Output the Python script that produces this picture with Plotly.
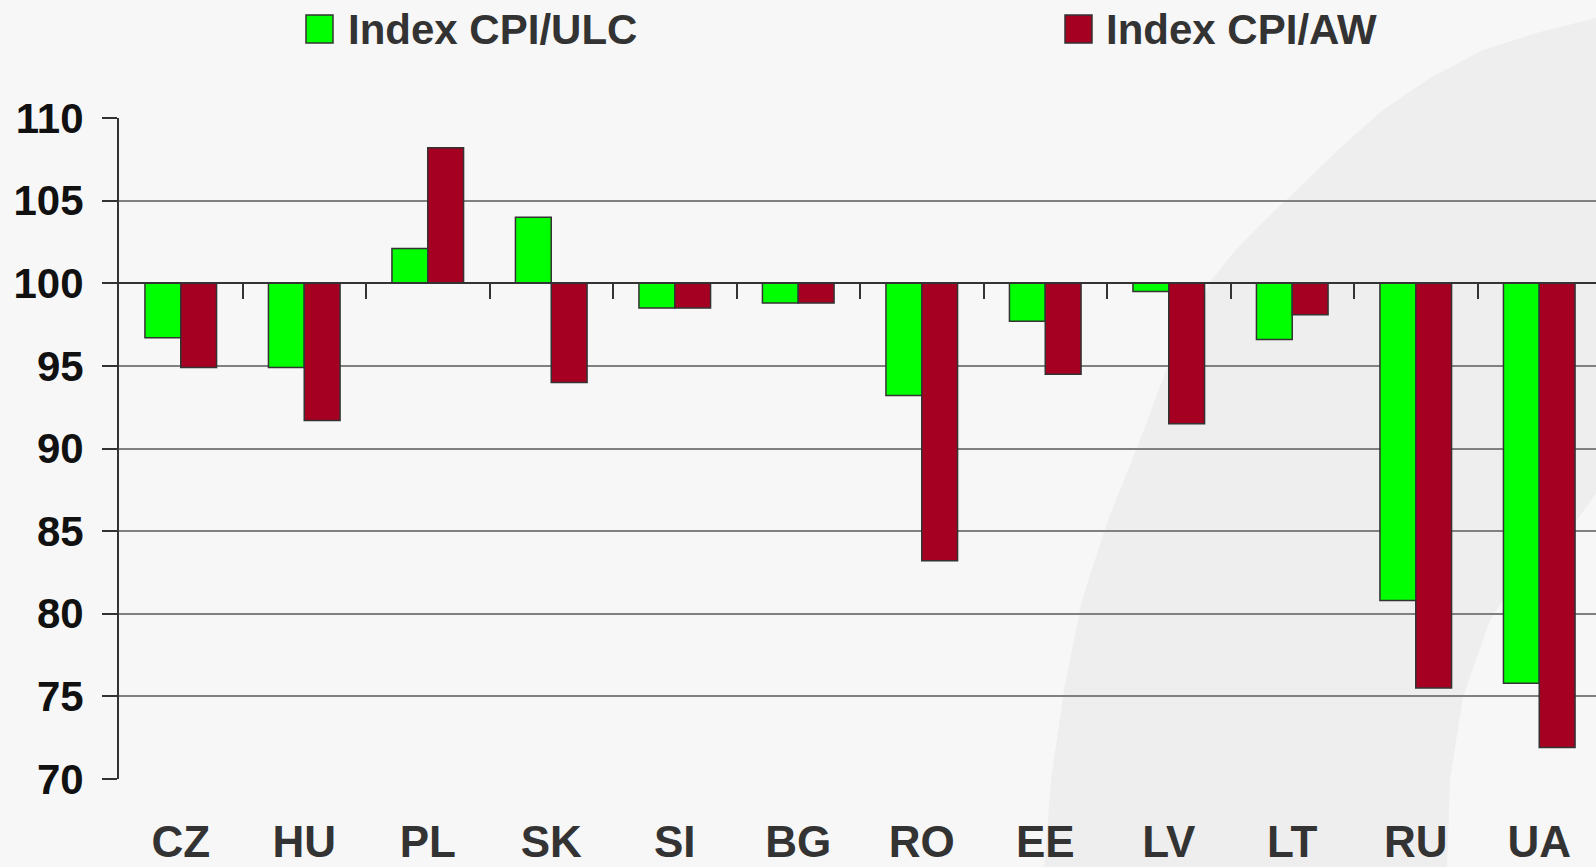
import plotly.graph_objects as go

categories = ["CZ", "HU", "PL", "SK", "SI", "BG", "RO", "EE", "LV", "LT", "RU", "UA"]
cpi_ulc = [96.7, 94.9, 102.1, 104.0, 98.5, 98.8, 93.2, 97.7, 99.5, 96.6, 80.8, 75.8]
cpi_aw = [94.9, 91.7, 108.2, 94.0, 98.5, 98.8, 83.2, 94.5, 91.5, 98.1, 75.5, 71.9]
series_names = ["Index CPI/ULC", "Index CPI/AW"]
series_colors = ["#00ff00", "#a50021"]
y_ticks = [70, 75, 80, 85, 90, 95, 100, 105, 110]
base_value = 100

W, H = 1596, 867
ML, MR, MT, MB = 119, 0, 118, 88
PW, PH = W - ML - MR, H - MT - MB
CAT_W = 123.5


def px(x):
    return (x - ML) / PW


def py(y):
    return (H - MB - y) / PH


fig = go.Figure()
for name, vals, col in zip(series_names, [cpi_ulc, cpi_aw], series_colors):
    fig.add_trace(go.Bar(
        x=categories, y=[v - base_value for v in vals], base=base_value,
        name=name, marker=dict(color=col, line=dict(color="#333333", width=1.5)),
        customdata=vals, hovertemplate="%{x}: %{customdata}<extra>" + name + "</extra>",
        showlegend=False,
    ))

# helper trace for the axis line at 100
fig.add_trace(go.Scatter(x=[0], y=[base_value], xaxis="x2", mode="markers",
                         marker=dict(opacity=0), showlegend=False, hoverinfo="skip"))

# decorative background band
outer = [(1600, 17), (1540, 32), (1483, 50), (1430, 78), (1383, 110), (1340, 148),
         (1300, 187), (1265, 220), (1233, 253), (1210, 282), (1170, 360), (1140, 440),
         (1108, 520), (1082, 600), (1064, 690), (1051, 780), (1044, 870)]
inner = [(1447, 870), (1450, 780), (1463, 697), (1490, 620), (1530, 560),
         (1577, 520), (1600, 488)]
pts = outer + inner
path = "M " + " L ".join(f"{px(a):.5f},{py(b):.5f}" for a, b in pts) + " Z"
shapes = [dict(type="path", xref="paper", yref="paper", path=path,
               fillcolor="#eeeeee", line=dict(width=0), layer="below")]

# legend
legend_items = [(306, 346), (1065, 1104)]
annotations = []
for (sx, tx), name, col in zip(legend_items, series_names, series_colors):
    shapes.append(dict(type="rect", xref="paper", yref="paper",
                       x0=px(sx), x1=px(sx + 27), y0=py(15), y1=py(43),
                       fillcolor=col, line=dict(color="#333333", width=1.5)))
    annotations.append(dict(xref="paper", yref="paper", x=px(tx), y=py(29),
                            xanchor="left", yanchor="middle", showarrow=False,
                            text=name, font=dict(family="Liberation Sans", size=42,
                                                 color="#333333", weight="bold")))

xr = [-0.5, -0.5 + PW / CAT_W]
fig.update_layout(
    width=W, height=H,
    margin=dict(l=ML, r=MR, t=MT, b=MB, autoexpand=False),
    paper_bgcolor="#f7f7f7", plot_bgcolor="rgba(0,0,0,0)",
    barmode="group", bargap=0.42, bargroupgap=0,
    shapes=shapes, annotations=annotations,
    xaxis=dict(type="category", range=xr, showgrid=False, showline=False, ticks="",
               tickfont=dict(family="Liberation Sans", size=44, color="#333333", weight="bold"),
               ticklabelstandoff=33),
    xaxis2=dict(overlaying="x", anchor="free", position=0.75, range=xr,
                showgrid=False, showline=True, linecolor="#333333", linewidth=2,
                ticks="outside", ticklen=15, tickwidth=2, tickcolor="#333333",
                tickvals=[i + 0.5 for i in range(11)], showticklabels=False,
                zeroline=False),
    yaxis=dict(range=[70, 110], tickvals=y_ticks, showgrid=True, gridcolor="#808080",
               gridwidth=1.5, zeroline=False, showline=True, linecolor="#333333",
               linewidth=2, ticks="outside", ticklen=15, tickwidth=2, tickcolor="#333333",
               tickfont=dict(family="Liberation Sans", size=42, color="#111111", weight="bold"),
               ticklabelstandoff=10),
    font=dict(family="Liberation Sans"),
)

fig.write_html("out.html", config={"displayModeBar": False},
               post_script="document.body.style.margin='0';")
